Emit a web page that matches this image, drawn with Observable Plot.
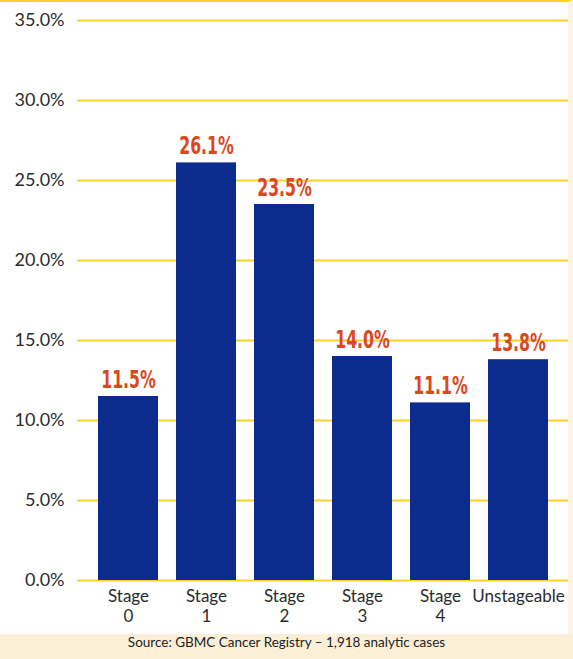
<!DOCTYPE html>
<html><head><meta charset="utf-8">
<script src="https://cdn.jsdelivr.net/npm/d3@7"></script>
<script src="https://cdn.jsdelivr.net/npm/@observablehq/plot@0.6"></script>
<style>
body{margin:0;background:#fff;}
#chart{width:568px;border-top:2px solid #fcd227;border-right:5px solid #fdf4e4;}
#chart svg{display:block}
#source{width:573px;height:25px;line-height:25px;background:#fcefd8;text-align:center;font:13.5px Lato,sans-serif;color:#222;}
</style></head><body>
<div id="chart"></div>
<div id="source">Source: GBMC Cancer Registry – 1,918 analytic cases</div>
<script>
const categories = ["Stage 0","Stage 1","Stage 2","Stage 3","Stage 4","Unstageable"];
const values = [11.5, 26.1, 23.5, 14.0, 11.1, 13.8];
const valueLabels = ["11.5%","26.1%","23.5%","14.0%","11.1%","13.8%"];
const yTicks = [0, 5, 10, 15, 20, 25, 30, 35];
const data = categories.map((c, i) => ({category: c, value: values[i], label: valueLabels[i]}));
const plot = Plot.plot({
  width: 568, height: 632, marginTop: 18, marginBottom: 54, marginLeft: 80, marginRight: 1,
  style: {background: "transparent", fontFamily: "Lato, sans-serif", color: "#2b2b2b"},
  x: {domain: categories, padding: 0.226},
  y: {domain: [0, 35]},
  marks: [
    Plot.ruleY(yTicks, {stroke: "#fcd227", strokeWidth: 2, insetLeft: -3, insetRight: -2}),
    Plot.barY(data, {x: "category", y: "value", fill: "#0b2c8c"}),
    Plot.text(data, {x: "category", y: "value", text: "label", lineAnchor: "bottom", dy: -9, fill: "#d9481f", fontSize: 25, fontWeight: "bold", fontFamily: "'DejaVu Sans Condensed','DejaVu Sans',sans-serif", className: "vlabel"}),
    Plot.axisY(yTicks, {tickSize: 0, tickPadding: 16, fontSize: 18, tickFormat: d => d.toFixed(1) + "%", label: null}),
    Plot.axisX({tickSize: 0, tickPadding: 8, fontSize: 17, lineHeight: 1.15, tickFormat: d => d.replace(" ", "\n"), label: null})
  ]
});
document.getElementById("chart").appendChild(plot);
// condense the value labels horizontally, like the narrow typeface of the original
d3.select(plot).selectAll(".vlabel text").each(function() {
  const w = this.getComputedTextLength();
  this.setAttribute("textLength", (w * 0.7).toFixed(1));
  this.setAttribute("lengthAdjust", "spacingAndGlyphs");
});
</script>
</body></html>
